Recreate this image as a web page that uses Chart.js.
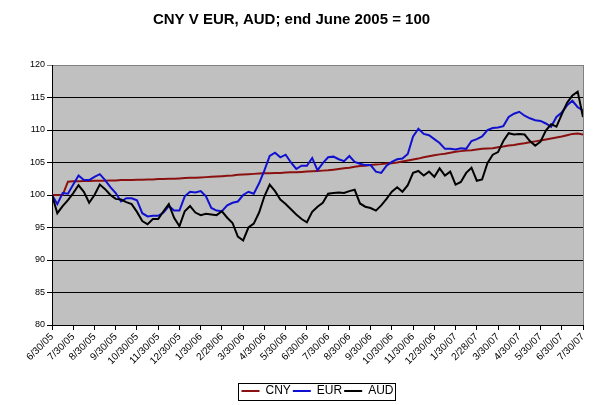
<!DOCTYPE html>
<html>
<head>
<meta charset="utf-8">
<script src="https://cdn.jsdelivr.net/npm/chart.js@4.4.1/dist/chart.umd.min.js"></script>
<style>
  html, body { margin: 0; padding: 0; background: #fff; }
  #wrap { width: 593px; height: 405px; }
</style>
</head>
<body>
<div id="wrap"><canvas id="fxChart" width="593" height="405"></canvas></div>
<script>
// month tick labels along the bottom
const tickLabels = ['6/30/05', '7/30/05', '8/30/05', '9/30/05', '10/30/05', '11/30/05', '12/30/05',
  '1/30/06', '2/28/06', '3/30/06', '4/30/06', '5/30/06', '6/30/06', '7/30/06', '8/30/06', '9/30/06',
  '10/30/06', '11/30/06', '12/30/06', '1/30/07', '2/28/07', '3/30/07', '4/30/07', '5/30/07',
  '6/30/07', '7/30/07'];

// one reading every quarter of a month
const step = 0.25;

const cny = [100, 100, 100, 102.05, 102.1, 102.1, 102.15, 102.15, 102.2, 102.2,
  102.2, 102.25, 102.25, 102.3, 102.3, 102.3, 102.35, 102.35, 102.4, 102.4,
  102.45, 102.45, 102.5, 102.5, 102.55, 102.6, 102.65, 102.65, 102.7, 102.75,
  102.8, 102.85, 102.9, 102.95, 103.0, 103.1, 103.15, 103.2, 103.25, 103.3,
  103.35, 103.35, 103.4, 103.4, 103.45, 103.5, 103.5, 103.55, 103.6, 103.65,
  103.7, 103.75, 103.8, 103.9, 104.0, 104.1, 104.2, 104.35, 104.45, 104.5,
  104.6, 104.7, 104.75, 104.85, 104.9, 105.0, 105.15, 105.3, 105.45, 105.6,
  105.8, 105.95, 106.1, 106.25, 106.35, 106.5, 106.65, 106.75, 106.85, 106.9,
  107.0, 107.1, 107.15, 107.2, 107.35, 107.45, 107.6, 107.7, 107.85, 107.95,
  108.1, 108.25, 108.4, 108.55, 108.7, 108.85, 109.0, 109.2, 109.4, 109.45,
  109.3];

const eur = [100, 98.6, 100.3, 100.2, 101.6, 103.0, 102.3, 102.3, 102.8, 103.2,
  102.3, 101.2, 100.3, 99.0, 99.5, 99.5, 99.2, 97.2, 96.7, 96.8,
  96.8, 97.3, 98.3, 97.6, 97.6, 99.8, 100.5, 100.4, 100.6, 99.8,
  98.0, 97.6, 97.5, 98.4, 98.8, 99.0, 100.0, 100.5, 100.2, 101.8,
  103.8, 106.0, 106.5, 105.8, 106.2, 105.0, 104.0, 104.5, 104.5, 105.7,
  103.8, 104.9, 105.8, 105.9, 105.5, 105.2, 106.0, 105.1, 104.8, 104.6,
  104.6, 103.6, 103.4, 104.5, 105.1, 105.5, 105.6, 106.3, 109.0, 110.2,
  109.4, 109.2, 108.6, 108.0, 107.1, 107.1, 107.0, 107.2, 107.1, 108.3,
  108.6, 109.0, 110.0, 110.3, 110.4, 110.6, 112.0, 112.5, 112.8, 112.2,
  111.8, 111.5, 111.4, 111.0, 110.5, 112.0, 112.7, 113.8, 114.5, 113.5,
  113.0];

const aud = [100, 97.2, 98.3, 99.2, 100.3, 101.5, 100.5, 98.8, 100.0, 101.6,
  100.9, 100.0, 99.4, 99.3, 98.9, 98.6, 97.4, 96.0, 95.5, 96.3,
  96.3, 97.5, 98.6, 96.5, 95.2, 97.5, 98.3, 97.3, 96.9, 97.1,
  97.0, 96.9, 97.5, 96.5, 95.7, 93.6, 93.0, 95.0, 95.6, 97.3,
  99.8, 101.6, 100.6, 99.3, 98.6, 97.8, 97.0, 96.3, 95.8, 97.4,
  98.2, 98.8, 100.2, 100.3, 100.4, 100.3, 100.6, 100.8, 98.7, 98.2,
  98.0, 97.6, 98.4, 99.4, 100.5, 101.2, 100.5, 101.5, 103.4, 103.7,
  103.0, 103.6, 102.8, 104.1, 103.0, 103.6, 101.6, 102.0, 103.4, 104.2,
  102.2, 102.4, 104.9, 106.2, 106.6, 108.3, 109.5, 109.3, 109.4, 109.3,
  108.3, 107.6, 108.2, 109.9, 110.9, 110.5, 112.4, 114.2, 115.3, 115.9,
  112.0];

function toPoints(values) {
  return values.map((v, i) => ({ x: i * step, y: v }));
}

const FONT = 'Liberation Sans, Arial, sans-serif';

// grey plot area, grey right edge, box round the legend
const excelLook = {
  id: 'excelLook',
  beforeDraw(chart) {
    const { ctx, chartArea: a } = chart;
    ctx.save();
    ctx.fillStyle = '#ffffff';
    ctx.fillRect(0, 0, chart.width, chart.height);
    ctx.fillStyle = '#c0c0c0';
    ctx.fillRect(a.left, a.top, a.right - a.left, a.bottom - a.top);
    ctx.restore();
  },
  beforeDatasetsDraw(chart) {
    const { ctx, chartArea: a } = chart;
    ctx.save();
    ctx.strokeStyle = '#808080';
    ctx.lineWidth = 1;
    ctx.beginPath();
    ctx.moveTo(Math.round(a.right) + 0.5, a.top);
    ctx.lineTo(Math.round(a.right) + 0.5, a.bottom);
    ctx.stroke();
    ctx.restore();
  },
  afterDraw(chart) {
    const lg = chart.legend;
    if (!lg || !lg.legendHitBoxes || !lg.legendHitBoxes.length) return;
    const boxes = lg.legendHitBoxes;
    const left = Math.min(...boxes.map(b => b.left)) - 3;
    const right = Math.max(...boxes.map(b => b.left + b.width)) + 2;
    const top = boxes[0].top - 2;
    const bottom = boxes[0].top + boxes[0].height + 3;
    const ctx = chart.ctx;
    ctx.save();
    ctx.strokeStyle = '#000';
    ctx.lineWidth = 1;
    ctx.strokeRect(Math.round(left) + 0.5, Math.round(top) + 0.5,
      Math.round(right - left), Math.round(bottom - top));
    ctx.restore();
  }
};

new Chart(document.getElementById('fxChart'), {
  type: 'line',
  data: {
    datasets: [
      { label: 'CNY', data: toPoints(cny), borderColor: '#8b1010', borderWidth: 2, order: 3 },
      { label: 'EUR', data: toPoints(eur), borderColor: '#1010d0', borderWidth: 2, order: 2 },
      { label: 'AUD', data: toPoints(aud), borderColor: '#000000', borderWidth: 2, order: 1 }
    ]
  },
  options: {
    responsive: false,
    animation: false,
    events: [],
    elements: { point: { radius: 0 }, line: { tension: 0 } },
    layout: { padding: { left: 0, right: 10, top: 0, bottom: -2 } },
    plugins: {
      title: {
        display: true,
        text: 'CNY V EUR, AUD; end June 2005 = 100',
        color: '#000',
        font: { family: FONT, size: 15, weight: 'bold' },
        padding: { top: 11, bottom: 36 }
      },
      legend: {
        position: 'bottom',
        fullSize: false,
        labels: {
          color: '#000',
          font: { family: FONT, size: 12 },
          usePointStyle: true,
          pointStyle: 'line',
          pointStyleWidth: 18,
          padding: 2,
          sort: (a, b) => a.datasetIndex - b.datasetIndex
        }
      },
      tooltip: { enabled: false }
    },
    scales: {
      x: {
        type: 'linear',
        min: 0,
        max: tickLabels.length - 1,
        afterFit(scale) { scale.height = 58; },
        afterBuildTicks(scale) {
          scale.ticks = tickLabels.map((_, i) => ({ value: i }));
        },
        ticks: {
          autoSkip: false,
          maxRotation: 45,
          minRotation: 45,
          padding: 1,
          color: '#000',
          font: { family: FONT, size: 10 },
          callback: (v) => tickLabels[v]
        },
        grid: { drawOnChartArea: false, drawTicks: true, tickLength: 5, color: '#000' },
        border: { color: '#000', width: 1 }
      },
      y: {
        min: 80,
        max: 120,
        afterFit(scale) { scale.width = 52; },
        ticks: {
          stepSize: 5,
          padding: 2,
          color: '#000',
          font: { family: FONT, size: 9 }
        },
        grid: {
          color: (c) => (c.tick && c.tick.value === 120 ? '#808080' : '#000'),
          tickLength: 5
        },
        border: { color: '#000', width: 1 }
      }
    }
  },
  plugins: [excelLook]
});
</script>
</body>
</html>
